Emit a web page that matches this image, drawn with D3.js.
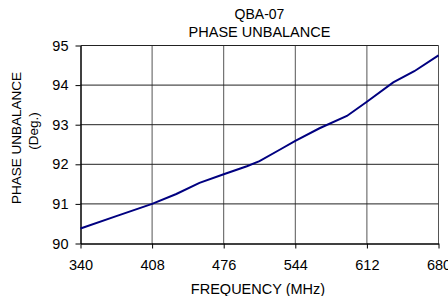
<!DOCTYPE html>
<html>
<head>
<meta charset="utf-8">
<script src="https://cdn.jsdelivr.net/npm/d3@7"></script>
<style>
  body { margin: 0; background: #fff; }
  svg { display: block; font-family: "Liberation Sans", Arial, sans-serif; }
</style>
</head>
<body>
<svg id="chart" width="448" height="296"></svg>
<script>
// readings from the curve
var freq = [340, 374, 408, 431, 453, 476, 498, 510, 530, 544, 567, 593, 612, 637, 657, 680];
var phase = [90.38, 90.69, 91.0, 91.25, 91.53, 91.75, 91.95, 92.08, 92.38, 92.59, 92.91, 93.22, 93.58, 94.07, 94.35, 94.75];
var xTicks = [340, 408, 476, 544, 612, 680];
var yTicks = [90, 91, 92, 93, 94, 95];

var svg = d3.select("#chart");
var plotL = 80.5, plotR = 438.5, plotT = 45.5, plotB = 243.5;

var x = d3.scaleLinear().domain([340, 680]).range([plotL, plotR]);
var y = d3.scaleLinear().domain([90, 95]).range([plotB, plotT]);

// grid
svg.append("g")
  .selectAll("line")
  .data(xTicks.slice(1))
  .enter()
  .append("line")
  .attr("x1", function (d) { return x(d); })
  .attr("x2", function (d) { return x(d); })
  .attr("y1", plotT)
  .attr("y2", plotB)
  .attr("stroke", "#555")
  .attr("stroke-width", 1);

svg.append("g")
  .selectAll("line")
  .data(yTicks.slice(1))
  .enter()
  .append("line")
  .attr("x1", plotL)
  .attr("x2", plotR)
  .attr("y1", function (d) { return y(d); })
  .attr("y2", function (d) { return y(d); })
  .attr("stroke", "#222")
  .attr("stroke-width", 1);

// axes
var xAxis = svg.append("g")
  .attr("transform", "translate(0," + plotB + ")")
  .call(d3.axisBottom(x).tickValues(xTicks).tickSize(5).tickPadding(11).tickSizeOuter(0));
var yAxis = svg.append("g")
  .attr("transform", "translate(" + plotL + ",0)")
  .call(d3.axisLeft(y).tickValues(yTicks).tickFormat(d3.format("d")).tickSize(5).tickPadding(7).tickSizeOuter(0));

[xAxis, yAxis].forEach(function (a) {
  a.select(".domain").attr("stroke", "#000").attr("stroke-width", 1.5);
  a.selectAll(".tick line").attr("stroke", "#000");
  a.selectAll("text")
    .attr("fill", "#000")
    .style("font-family", "'Liberation Sans', Arial, sans-serif")
    .style("font-size", "14.5px");
});

// line
var line = d3.line()
  .x(function (d, i) { return x(freq[i]); })
  .y(function (d) { return y(d); });

svg.append("path")
  .datum(phase)
  .attr("d", line)
  .attr("fill", "none")
  .attr("stroke", "#000080")
  .attr("stroke-width", 2);

// titles
svg.append("text")
  .attr("x", 259.5).attr("y", 19)
  .attr("text-anchor", "middle")
  .style("font-size", "14px")
  .text("QBA-07");
svg.append("text")
  .attr("x", 259.5).attr("y", 37)
  .attr("text-anchor", "middle")
  .style("font-size", "14.5px")
  .text("PHASE UNBALANCE");
svg.append("text")
  .attr("x", 258).attr("y", 294)
  .attr("text-anchor", "middle")
  .style("font-size", "14.5px")
  .text("FREQUENCY (MHz)");
svg.append("text")
  .attr("transform", "translate(21,138) rotate(-90)")
  .attr("text-anchor", "middle")
  .style("font-size", "13.5px")
  .text("PHASE UNBALANCE");
svg.append("text")
  .attr("transform", "translate(38,131) rotate(-90)")
  .attr("text-anchor", "middle")
  .style("font-size", "13.5px")
  .text("(Deg.)");
</script>
</body>
</html>
